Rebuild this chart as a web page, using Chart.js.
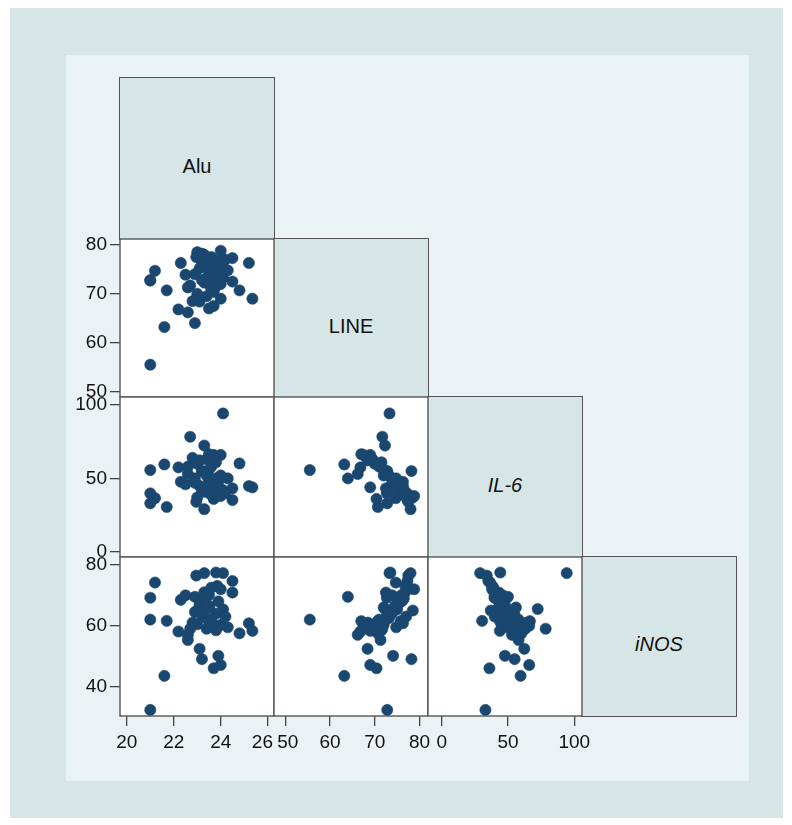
<!DOCTYPE html>
<html><head><meta charset="utf-8">
<script src="https://cdn.jsdelivr.net/npm/chart.js@4/dist/chart.umd.min.js"></script>
<style>
body{margin:0;background:#fff;width:792px;height:825px;position:relative;overflow:hidden;font-family:"Liberation Sans",Arial,sans-serif}
#outer{position:absolute;left:10px;top:8px;width:773px;height:810px;background:#d6e6e7}
#inner{position:absolute;left:66px;top:55px;width:683px;height:726px;background:#eaf2f4}
.diag{position:absolute;box-sizing:border-box;border:1.5px solid #555;background:#d6e6e7;display:flex;align-items:center;justify-content:center;font-size:20px;color:#111;padding-top:16px}
canvas{position:absolute}
</style></head><body>
<div id="outer"></div><div id="inner"></div>
<div id="root"></div>
<script>
// ---- data ----
const varNames = ['Alu', 'LINE', 'IL-6', 'iNOS'];
const italicNames = [false, false, true, true];
const alu  = [21.0,22.9,21.6,21.0,21.0,21.2,24.1,22.7,23.3,24.0,23.7,23.2,23.9,23.1,22.6,25.2,25.35,24.8,24.5,24.5,21.7,22.2,22.3,22.96,23.3,23.8,22.5,23.5,23.85,24.1,24.0,23.0,23.4,23.6,23.2,23.8,23.5,23.1,23.9,23.3,23.6,22.8,23.7,23.4,22.9,23.6,24.2,23.0,23.8,22.6,24.3,23.5,23.2,24.0,23.5];
const line = [55.5,64.0,63.2,72.8,72.7,74.7,73.3,71.7,72.3,69.0,70.4,78.2,74.1,68.4,71.3,76.3,69.0,70.7,77.3,72.5,70.7,66.8,76.3,77.5,78.0,73.5,73.9,76.0,76.8,75.0,72.0,70.0,69.5,71.0,72.8,73.8,74.5,75.2,76.0,76.8,77.5,68.5,67.5,73.2,74.0,75.8,77.0,78.5,71.5,66.2,74.8,72.0,76.5,78.8,67.0];
const il6  = [55.7,50.0,59.5,33.0,39.8,36.5,94.3,78.4,72.4,66.0,36.0,55.0,47.7,62.3,58.0,44.8,43.9,60.2,35.2,43.2,30.5,57.5,47.7,34.0,29.0,44.2,46.0,40.0,38.0,42.0,52.0,60.0,63.0,58.0,55.0,50.0,48.0,45.0,43.0,41.0,39.0,64.0,66.0,52.0,47.0,44.0,40.0,37.0,61.0,53.0,50.0,56.0,42.0,38.0,66.5];
const inos = [62.0,69.5,43.5,32.3,69.2,74.2,77.3,59.0,65.5,47.1,46.0,49.0,50.1,52.4,55.3,60.8,58.3,57.5,74.7,70.9,61.6,58.1,68.5,76.5,77.3,77.5,70.0,70.1,73.1,65.4,60.3,60.5,59.0,62.0,63.5,64.0,66.5,67.0,68.0,71.0,72.5,61.0,60.0,62.5,64.5,61.5,63.0,65.0,58.5,57.0,59.5,66.0,69.0,72.0,61.5];
const aluTicks  = [20, 22, 24, 26];
const lineTicks = [50, 60, 70, 80];
const il6Ticks  = [0, 50, 100];
const inosTicks = [40, 60, 80];

const series = [alu, line, il6, inos];
const tickSets = [aluTicks, lineTicks, il6Ticks, inosTicks];
// axis ranges (x used in columns, y used in rows)
const xRange = [[19.71, 26.27], [47.5, 81.9], [-10.3, 105.8], null];
const yRange = [null, [48.9, 81.2], [-3.6, 105.5], [30.3, 82.6]];

// ---- layout ----
const colX = [120, 274, 428, 582, 736];
const rowY = [78, 239, 397, 557, 716];
const panelLeft = 66, panelBottom = 781, PAD = 16;
const root = document.getElementById('root');

// diagonal label boxes
for (let k = 0; k < 4; k++) {
  const d = document.createElement('div');
  d.className = 'diag';
  d.style.left = (colX[k] - 0.75) + 'px';
  d.style.top = (rowY[k] - 0.75) + 'px';
  d.style.width = (colX[k + 1] - colX[k] + 1.5) + 'px';
  d.style.height = (rowY[k + 1] - rowY[k] + 1.5) + 'px';
  if (italicNames[k]) d.style.fontStyle = 'italic';
  d.textContent = varNames[k];
  root.appendChild(d);
}

const cellPlugin = {
  id: 'cell',
  beforeDraw(chart) {
    const { ctx, chartArea: a } = chart;
    ctx.save(); ctx.fillStyle = '#ffffff';
    ctx.fillRect(a.left, a.top, a.right - a.left, a.bottom - a.top);
    ctx.restore();
  },
  afterDraw(chart) {
    const { ctx, chartArea: a } = chart;
    ctx.save(); ctx.strokeStyle = '#555555'; ctx.lineWidth = 1.4;
    ctx.strokeRect(a.left, a.top, a.right - a.left, a.bottom - a.top);
    ctx.restore();
  }
};

const tickFont = { family: '"Liberation Sans", Arial, sans-serif', size: 19 };
// neighbouring column labels that the original nudges apart
const nudge = (col, v, first, last) => {
  const s = String(v);
  if (col === 0 && v === last) return s + '  ';
  if (col === 1 && v === first) return ' ' + s;
  return s;
};

for (let i = 1; i < 4; i++) {
  for (let j = 0; j < i; j++) {
    const showX = i === 3, showY = j === 0;
    const left = showY ? panelLeft : colX[j] - PAD;
    const right = colX[j + 1] + PAD;
    const top = rowY[i] - PAD;
    const bottom = showX ? panelBottom : rowY[i + 1] + PAD;
    const cv = document.createElement('canvas');
    cv.width = right - left; cv.height = bottom - top;
    cv.style.left = left + 'px'; cv.style.top = top + 'px';
    cv.style.width = (right - left) + 'px'; cv.style.height = (bottom - top) + 'px';
    root.appendChild(cv);
    const xs = series[j], ys = series[i];
    const xt = tickSets[j], yt = tickSets[i];
    new Chart(cv, {
      type: 'scatter',
      data: { datasets: [{
        data: xs.map((v, k) => ({ x: v, y: ys[k] })),
        backgroundColor: '#1a476f', borderColor: '#1a476f', borderWidth: 0.6,
        pointRadius: 5.6, pointHoverRadius: 5.6
      }] },
      options: {
        responsive: false, animation: false, devicePixelRatio: 1,
        layout: { padding: { left: showY ? 0 : PAD, right: PAD, top: PAD, bottom: showX ? 0 : PAD } },
        plugins: { legend: { display: false }, tooltip: { enabled: false } },
        events: [],
        scales: {
          x: {
            type: 'linear', min: xRange[j][0], max: xRange[j][1],
            display: showX,
            afterBuildTicks: s => { s.ticks = xt.map(v => ({ value: v })); },
            afterFit: s => { s.height = showX ? panelBottom - rowY[4] : 0; },
            grid: { drawOnChartArea: false, drawTicks: true, tickLength: 10, color: '#444', lineWidth: 1.3 },
            border: { display: false },
            ticks: { autoSkip: false, maxRotation: 0, padding: 5, color: '#111', font: tickFont,
                     callback: v => nudge(j, v, xt[0], xt[xt.length - 1]) }
          },
          y: {
            type: 'linear', min: yRange[i][0], max: yRange[i][1],
            display: showY,
            afterBuildTicks: s => { s.ticks = yt.map(v => ({ value: v })); },
            afterFit: s => { s.width = showY ? colX[0] - panelLeft : 0; },
            grid: { drawOnChartArea: false, drawTicks: true, tickLength: 10, color: '#444', lineWidth: 1.3 },
            border: { display: false },
            ticks: { autoSkip: false, padding: 3, color: '#111', font: tickFont, callback: v => String(v) }
          }
        }
      },
      plugins: [cellPlugin]
    });
  }
}
</script>
</body></html>
